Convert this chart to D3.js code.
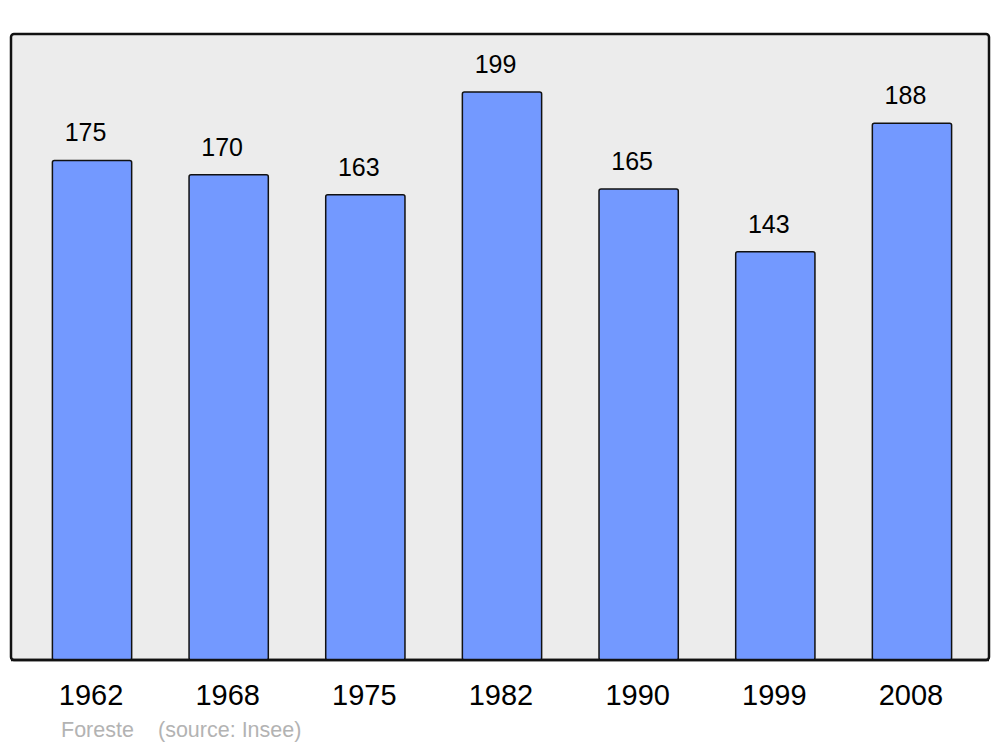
<!DOCTYPE html>
<html><head><meta charset="utf-8">
<script src="https://cdn.jsdelivr.net/npm/d3@7"></script>
<style>body{margin:0;background:#fff}svg{display:block}text{font-family:"Liberation Sans",Arial,sans-serif}</style>
</head><body>
<svg id="c" width="1000" height="747"></svg>
<script>
const years = ["1962","1968","1975","1982","1990","1999","2008"];
const population = [175,170,163,199,165,143,188];
const townName = "Foreste";
const sourceText = "(source: Insee)";

const svg = d3.select("#c");
const x = d3.scaleBand().domain(years).range([23.7, 980.3]).paddingInner(0.42).paddingOuter(0.21);
const y = d3.scaleLinear().domain([0, 219.3]).range([660, 34]);

svg.append("rect").attr("x",11).attr("y",34).attr("width",978).attr("height",626)
  .attr("rx",3).attr("fill","#ececec").attr("stroke","#111").attr("stroke-width",2.5);

const data = years.map((yr,i)=>({yr, v: population[i]}));
svg.selectAll("rect.bar").data(data).enter().append("rect").attr("class","bar")
  .attr("x",d=>x(d.yr)).attr("width",x.bandwidth())
  .attr("y",d=>y(d.v)).attr("height",d=>y(0)-y(d.v))
  .attr("rx",2).attr("fill","#7399ff").attr("stroke","#111").attr("stroke-width",1.5);

svg.selectAll("text.val").data(data).enter().append("text").attr("class","val")
  .attr("x",d=>x(d.yr)+x.bandwidth()/2-6.5).attr("y",d=>y(d.v)-19)
  .attr("text-anchor","middle").attr("font-size",25).attr("fill","#000").text(d=>d.v);

svg.append("line").attr("x1",11).attr("x2",989).attr("y1",660).attr("y2",660).attr("stroke","#111").attr("stroke-width",2.5);

svg.selectAll("text.yr").data(years).enter().append("text").attr("class","yr")
  .attr("x",d=>x(d)+x.bandwidth()/2-1).attr("y",705)
  .attr("text-anchor","middle").attr("font-size",29).attr("fill","#000").text(d=>d);

svg.append("text").attr("x",61).attr("y",737).attr("font-size",21.5).attr("fill","#b3b3b3").text(townName);
svg.append("text").attr("x",158).attr("y",737).attr("font-size",21.5).attr("fill","#b3b3b3").text(sourceText);
</script>
</body></html>
